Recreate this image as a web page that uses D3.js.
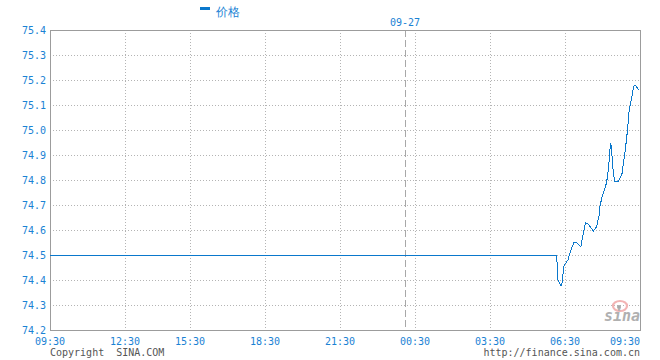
<!DOCTYPE html>
<html>
<head>
<meta charset="utf-8">
<script src="https://cdn.jsdelivr.net/npm/d3@7/dist/d3.min.js"></script>
<style>
  html, body { margin: 0; padding: 0; background: #fff; }
  svg { display: block; }
  text { font-family: "DejaVu Sans Mono", monospace; }
</style>
</head>
<body>
<svg id="chart" width="660" height="360"></svg>
<script>
// ---- data ----
const seriesName = "价格";
const dateLabel = "09-27";
const dateMinute = 852;              // trading minutes since 09:30 where the new date starts
const tickLabels = ["09:30","12:30","15:30","18:30","21:30","00:30","03:30","06:30","09:30"];
const tickMinutes = [0, 180, 336, 516, 696, 876, 1056, 1236, 1416];
const yTicks = [74.2, 74.3, 74.4, 74.5, 74.6, 74.7, 74.8, 74.9, 75.0, 75.1, 75.2, 75.3, 75.4];
const times = [0, 1216, 1219, 1226, 1229, 1231, 1234, 1238, 1243, 1248, 1253, 1258, 1264, 1267, 1274,
  1280, 1285, 1292, 1304, 1312, 1318, 1320, 1326, 1332, 1336, 1340, 1342, 1344, 1346, 1348, 1350,
  1353, 1355, 1364, 1368, 1373, 1376, 1380, 1384, 1387, 1390, 1394, 1397, 1399, 1402, 1406, 1410, 1413];
const prices = [74.5, 74.5, 74.40, 74.376, 74.388, 74.42, 74.46, 74.468, 74.48, 74.508, 74.532, 74.552, 74.551, 74.544, 74.533,
  74.587, 74.629, 74.623, 74.596, 74.613, 74.66, 74.696, 74.74, 74.767, 74.792, 74.84, 74.88, 74.924, 74.947, 74.92, 74.86,
  74.82, 74.796, 74.796, 74.807, 74.827, 74.867, 74.913, 74.967, 75.02, 75.08, 75.113, 75.137, 75.16, 75.18, 75.177, 75.167, 75.161];

// ---- layout ----
const svg = d3.select("#chart");
const L = 50, R = 640, T = 30, B = 330;
const blue = "#1a82d4";
const lineBlue = "#0a78cc";
const x = d3.scaleLinear().domain([tickMinutes[0], tickMinutes[tickMinutes.length - 1]]).range([L, R]);
const y = d3.scaleLinear().domain([yTicks[0], yTicks[yTicks.length - 1]]).range([B, T]);

// grid
const grid = svg.append("g");
grid.selectAll("line.h").data(yTicks.slice(1, -1)).enter().append("line")
  .attr("x1", L).attr("x2", R)
  .attr("y1", d => Math.round(y(d)) + 0.5).attr("y2", d => Math.round(y(d)) + 0.5)
  .attr("stroke", "#b4b4b4").attr("stroke-dasharray", "1,2").attr("shape-rendering", "crispEdges");
grid.selectAll("line.v").data(tickMinutes.slice(1, -1)).enter().append("line")
  .attr("y1", T).attr("y2", B)
  .attr("x1", d => Math.round(x(d)) + 0.5).attr("x2", d => Math.round(x(d)) + 0.5)
  .attr("stroke", "#b4b4b4").attr("stroke-dasharray", "1,2").attr("shape-rendering", "crispEdges");

// date separator
grid.append("line")
  .attr("x1", Math.round(x(dateMinute)) + 0.5).attr("x2", Math.round(x(dateMinute)) + 0.5)
  .attr("y1", T).attr("y2", B)
  .attr("stroke", "#a8a8a8").attr("stroke-dasharray", "7,3").attr("shape-rendering", "crispEdges");
svg.append("text").attr("x", x(dateMinute)).attr("y", 26)
  .attr("text-anchor", "middle").attr("font-size", 10).attr("fill", blue).text(dateLabel);

// watermark
const wm = svg.append("g");
wm.append("ellipse").attr("cx", 620).attr("cy", 306).attr("rx", 7).attr("ry", 5)
  .attr("fill", "none").attr("stroke", "#f2b4b4").attr("stroke-width", 2.2);
wm.append("circle").attr("cx", 619).attr("cy", 307).attr("r", 2).attr("fill", "#a8a8a8");
wm.append("text").attr("x", 622).attr("y", 321).attr("text-anchor", "middle")
  .attr("font-family", "DejaVu Sans").attr("font-style", "italic").attr("font-weight", "bold")
  .attr("font-size", 15).attr("fill", "#b0b0b0").text("sina");

// frame
svg.append("rect").attr("x", L + 0.5).attr("y", T + 0.5).attr("width", R - L).attr("height", B - T)
  .attr("fill", "none").attr("stroke", "#9c9c9c").attr("shape-rendering", "crispEdges");

// line
const pts = times.map((t, i) => [t, prices[i]]);
svg.append("path").datum(pts)
  .attr("d", d3.line().x(d => x(d[0])).y(d => y(d[1])))
  .attr("fill", "none").attr("stroke", lineBlue).attr("stroke-width", 1)
  .attr("shape-rendering", "crispEdges");

// y labels
svg.append("g").selectAll("text").data(yTicks).enter().append("text")
  .attr("x", 46).attr("y", d => y(d) + 4)
  .attr("text-anchor", "end").attr("font-size", 10).attr("fill", blue)
  .text(d => d.toFixed(1));

// x labels
svg.append("g").selectAll("text").data(tickMinutes).enter().append("text")
  .attr("x", d => x(d)).attr("y", 345)
  .attr("text-anchor", (d, i) => i === tickMinutes.length - 1 ? "end" : "middle")
  .attr("font-size", 10).attr("fill", blue)
  .text((d, i) => tickLabels[i]);

// footer
svg.append("text").attr("x", 50).attr("y", 355.5).attr("font-size", 10).attr("fill", "#555")
  .attr("xml:space", "preserve").text("Copyright  SINA.COM");
svg.append("text").attr("x", 640).attr("y", 355.5).attr("text-anchor", "end")
  .attr("font-size", 10).attr("fill", "#555").text("http://finance.sina.com.cn");

// legend
svg.append("rect").attr("x", 200).attr("y", 7).attr("width", 10).attr("height", 3).attr("fill", lineBlue);
svg.append("text").attr("x", 216).attr("y", 16)
  .attr("font-family", "'Noto Sans CJK SC', sans-serif").attr("font-size", 12).attr("fill", blue)
  .text(seriesName);
</script>
</body>
</html>
